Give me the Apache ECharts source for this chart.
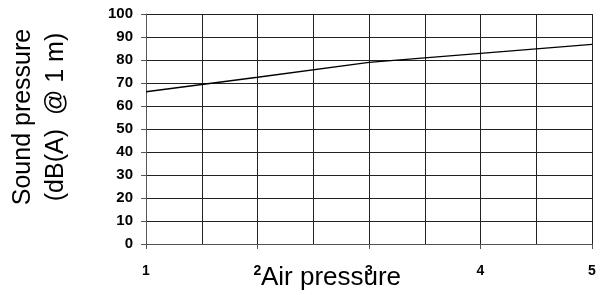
<!DOCTYPE html>
<html>
<head>
    <meta charset="utf-8">
    <title>Sound pressure vs air pressure</title>
    <script src="https://cdn.jsdelivr.net/npm/echarts@6/dist/echarts.min.js"></script>
    <style>
        html, body { margin: 0; padding: 0; background: #fff; }
        #chart { width: 601px; height: 295px; }
    </style>
</head>
<body>
<div id="chart"></div>
<script>
    // values
    var airPressure = [1, 2, 3, 4, 5];
    var soundPressure = [66.2, 72.5, 79.0, 82.9, 86.8];

    var font = "'Liberation Sans', Arial, sans-serif";

    var myChart = echarts.init(document.getElementById('chart'));

    var points = [];
    for (var i = 0; i < airPressure.length; i++) {
        points.push([airPressure[i], soundPressure[i]]);
    }

    var option = {
        animation: false,
        backgroundColor: '#fff',
        grid: {
            left: 146,
            right: 9,
            top: 14,
            bottom: 51,
            containLabel: false,
            outerBoundsMode: 'none'
        },
        xAxis: {
            type: 'value',
            min: 1,
            max: 5,
            interval: 1,
            name: 'Air pressure',
            nameLocation: 'middle',
            nameGap: 21,
            nameMoveOverlap: false,
            nameTextStyle: {
                fontFamily: font,
                fontSize: 26,
                color: '#000',
                padding: [0, 76, 0, 0]
            },
            axisLine: { show: true, lineStyle: { color: '#555', width: 1 } },
            axisTick: { show: true, length: 5, lineStyle: { color: '#555' } },
            axisLabel: {
                margin: 20,
                fontFamily: font,
                fontSize: 14,
                fontWeight: 'bold',
                color: '#000'
            },
            splitLine: { show: true, lineStyle: { color: '#222', width: 1 } },
            minorTick: { show: false, splitNumber: 2 },
            minorSplitLine: { show: true, lineStyle: { color: '#222', width: 1 } }
        },
        yAxis: {
            type: 'value',
            min: 0,
            max: 100,
            interval: 10,
            name: 'Sound pressure\n(dB(A)  @ 1 m)',
            nameLocation: 'middle',
            nameRotate: 90,
            nameGap: 73,
            nameMoveOverlap: false,
            nameTextStyle: {
                fontFamily: font,
                fontSize: 25,
                lineHeight: 33,
                color: '#000',
                padding: [0, 0, 0, 24]
            },
            axisLine: { show: true, lineStyle: { color: '#555', width: 1 } },
            axisTick: { show: true, length: 5, lineStyle: { color: '#555' } },
            axisLabel: {
                margin: 13,
                fontFamily: font,
                fontSize: 15,
                fontWeight: 'bold',
                color: '#000'
            },
            splitLine: { show: true, lineStyle: { color: '#222', width: 1 } }
        },
        series: [
            {
                name: 'Sound pressure',
                type: 'line',
                data: points,
                symbol: 'none',
                lineStyle: { color: '#000', width: 1.3 }
            }
        ]
    };

    myChart.setOption(option);
</script>
</body>
</html>
